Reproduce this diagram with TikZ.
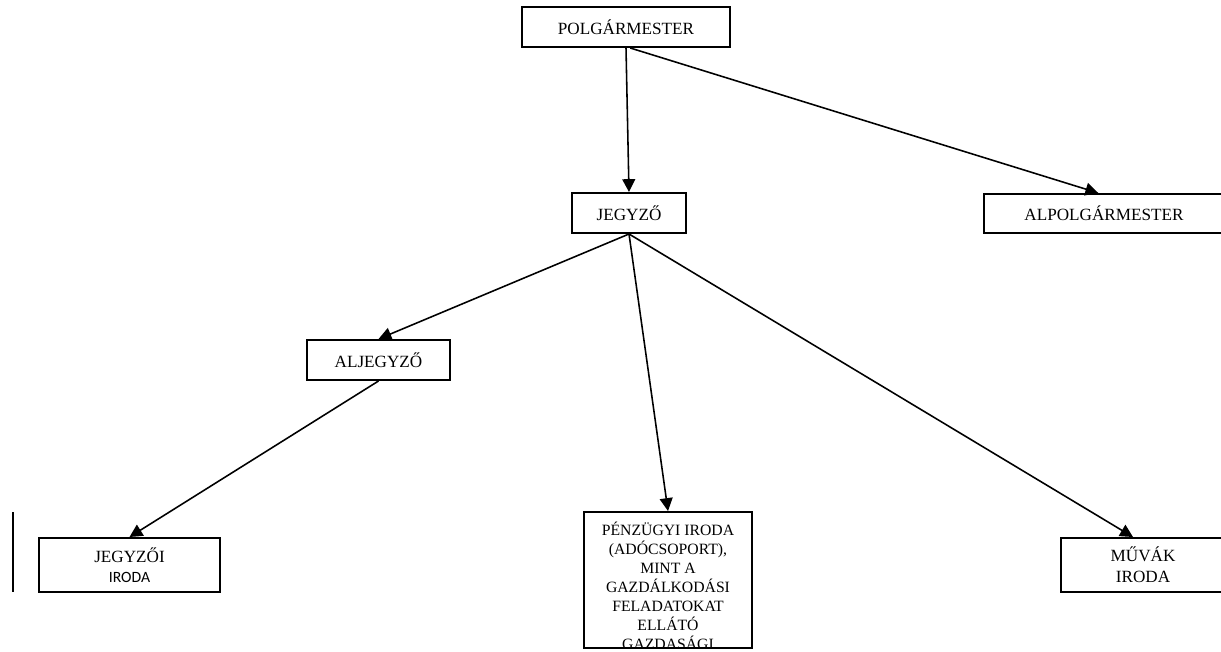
\documentclass[tikz,border=0pt]{standalone}
\usepackage{fontspec}
\setmainfont{Liberation Serif}
\newfontfamily\carlito{Carlito}
\usetikzlibrary{arrows.meta}
\tikzset{
  box/.style={draw=black, line width=1.4pt, inner sep=0pt, align=center, font=\fontsize{12}{14}\selectfont},
  link/.style={line width=1.1pt, -{Triangle[length=9pt,width=9pt]}}
}

\begin{document}
\begin{tikzpicture}[x=0.7pt,y=-0.7pt]
\useasboundingbox (0,0) rectangle (1221,651);
\node[box, minimum width=145.6pt, minimum height=28pt] (polg) at (626,27) {POLGÁRMESTER};
\node[box, minimum width=79.8pt, minimum height=28pt] (jegyzo) at (629,213) {JEGYZŐ};
\node[box, minimum width=168pt, minimum height=27.3pt] (alpolg) at (1104,213.5) {ALPOLGÁRMESTER};
\node[box, minimum width=100.1pt, minimum height=28pt] (aljegyzo) at (378.5,360) {ALJEGYZŐ};
\node[box, minimum width=126.7pt, minimum height=37.8pt, font=\fontsize{12}{13.6}\selectfont] (jiroda) at (129.5,565) {JEGYZŐI\\{\carlito\fontsize{11}{13}\selectfont IRODA}};
\node[box, minimum width=117.6pt, minimum height=95.2pt] (penz) at (668,580) {};
\node[box, minimum width=114.8pt, minimum height=37.8pt, font=\fontsize{12}{14.7}\selectfont] (muvak) at (1143,565) {MŰVÁK\\IRODA};
\begin{scope}
\clip (penz.north west) rectangle ([yshift=0.7pt]penz.south east);
\foreach \t [count=\i] in {{PÉNZÜGYI IRODA},{(ADÓCSOPORT),},{MINT A},{GAZDÁLKODÁSI},{FELADATOKAT},{ELLÁTÓ},{GAZDASÁGI}}
\node[anchor=base, inner sep=0pt, font=\fontsize{11}{13}\selectfont] (pz\i) at (668,516+19*\i) {\t};
\end{scope}
\draw[line width=1.4pt] (13,512) -- (13,592);
\draw[link] (polg.south) -- (jegyzo.north);
\draw[link] ([xshift=3pt]polg.south) -- ([xshift=-4pt]alpolg.north);
\draw[link] (jegyzo.south) -- (aljegyzo.north);
\draw[link] (jegyzo.south) -- (penz.north);
\draw[link] (jegyzo.south) -- ([xshift=-7pt]muvak.north);
\draw[link] (aljegyzo.south) -- (jiroda.north);
\end{tikzpicture}
\end{document}
